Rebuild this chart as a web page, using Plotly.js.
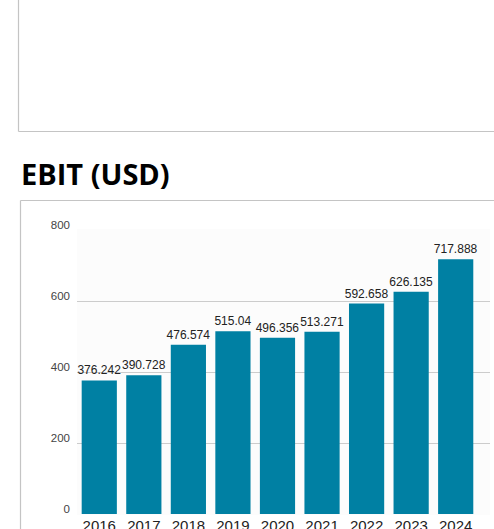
<!DOCTYPE html>
<html>
<head>
<meta charset="utf-8">
<script src="https://cdn.plot.ly/plotly-3.0.1.min.js"></script>
<style>
html,body{margin:0;padding:0;background:#fff;overflow:hidden;}
#chart{width:494px;height:529px;}
</style>
</head>
<body>
<div id="chart"></div>
<script>
const years = ['2016','2017','2018','2019','2020','2021','2022','2023','2024'];
const ebit = [376.242, 390.728, 476.574, 515.04, 496.356, 513.271, 592.658, 626.135, 717.888];
const barLabels = ['376.242','390.728','476.574','515.04','496.356','513.271','592.658','626.135','717.888'];
const yTicks = [0, 200, 400, 600, 800];
const chartTitle = 'EBIT (USD)';

const PW = 413, PH = 286, L = 77, T = 229;
const px = v => (v - L) / PW;
const py = v => 1 + (T - v) / PH;

const data = [{
  type: 'bar',
  x: years,
  y: ebit,
  text: barLabels,
  textposition: 'outside',
  constraintext: 'none',
  cliponaxis: false,
  textfont: {family: 'Arial, Liberation Sans, sans-serif', size: 12, color: '#222'},
  marker: {color: '#0080a3'},
  hoverinfo: 'none'
}];

const layout = {
  width: 494, height: 529,
  margin: {l: L, r: 4, t: T, b: 14, pad: 0},
  paper_bgcolor: '#ffffff',
  plot_bgcolor: '#fcfcfc',
  showlegend: false,
  bargap: 0.21,
  xaxis: {
    type: 'category',
    range: [-0.5, 8.77],
    showgrid: false, zeroline: false, showline: false,
    ticks: '', ticklabelstandoff: 0,
    tickfont: {family: 'Arial, Liberation Sans, sans-serif', size: 15, color: '#222'}
  },
  yaxis: {
    range: [-2.8, 802.8],
    tickvals: yTicks,
    ticktext: yTicks.map(String),
    showgrid: true, gridcolor: '#cccccc', gridwidth: 1,
    zeroline: false, showline: false, ticks: '',
    ticklabelstandoff: 6, ticklabelshift: -5,
    tickfont: {family: 'Arial, Liberation Sans, sans-serif', size: 11.5, color: '#444'}
  },
  shapes: [
    {type: 'line', xref: 'paper', yref: 'paper', x0: px(18.5), x1: px(18.5), y0: py(-5), y1: py(131.5), line: {color: '#c4c4c4', width: 1.2}},
    {type: 'line', xref: 'paper', yref: 'paper', x0: px(18.5), x1: px(500), y0: py(131.5), y1: py(131.5), line: {color: '#c4c4c4', width: 1.2}},
    {type: 'line', xref: 'paper', yref: 'paper', x0: px(20.5), x1: px(20.5), y0: py(200.5), y1: py(540), line: {color: '#c4c4c4', width: 1.2}},
    {type: 'line', xref: 'paper', yref: 'paper', x0: px(20.5), x1: px(500), y0: py(200.5), y1: py(200.5), line: {color: '#c4c4c4', width: 1.2}}
  ],
  annotations: [{
    text: '<b>' + chartTitle + '</b>',
    xref: 'paper', yref: 'paper',
    x: px(19), y: py(173),
    xanchor: 'left', yanchor: 'middle',
    showarrow: false,
    font: {family: 'Open Sans, sans-serif', size: 29, color: '#000'}
  }]
};

Plotly.newPlot('chart', data, layout, {displayModeBar: false, staticPlot: true});
</script>
</body>
</html>
